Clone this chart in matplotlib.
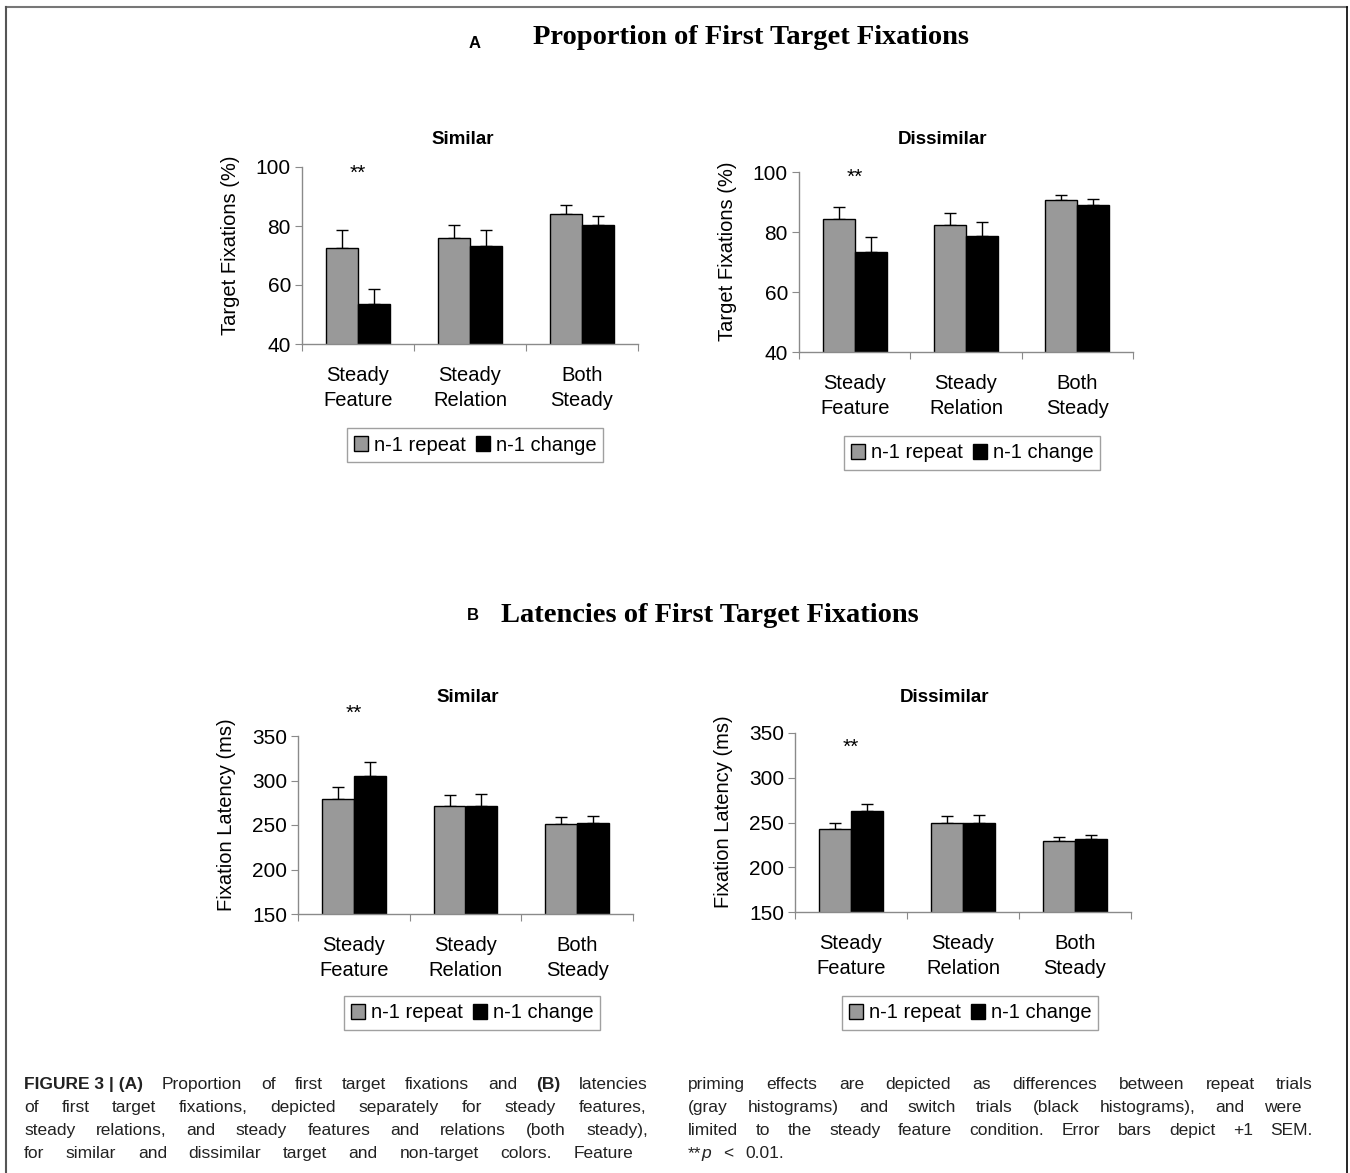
import numpy as np
import matplotlib
matplotlib.use('Agg')
import matplotlib.pyplot as plt
from matplotlib.lines import Line2D
from matplotlib.patches import Patch

plt.rcParams['font.family'] = ['Liberation Sans', 'DejaVu Sans']

W, H = 1350, 1173

# conditions and legend entries
categories = ['Steady\nFeature', 'Steady\nRelation', 'Both\nSteady']
series_names = ['n-1 repeat', 'n-1 change']

# A: proportion of first target fixations (%), mean and +1 SEM
prop_sim_repeat = [72.5, 76.0, 84.0]
prop_sim_repeat_sem = [6.0, 4.2, 3.0]
prop_sim_change = [53.4, 73.1, 80.2]
prop_sim_change_sem = [5.2, 5.5, 3.1]
prop_dis_repeat = [84.3, 82.2, 90.6]
prop_dis_repeat_sem = [3.9, 4.1, 1.6]
prop_dis_change = [73.4, 78.8, 89.0]
prop_dis_change_sem = [5.0, 4.6, 2.0]

# B: latencies of first target fixations (ms)
lat_sim_repeat = [279, 271, 251]
lat_sim_repeat_sem = [14, 13, 8]
lat_sim_change = [305, 271, 252]
lat_sim_change_sem = [16, 14, 8]
lat_dis_repeat = [243, 250, 229]
lat_dis_repeat_sem = [7, 7, 5]
lat_dis_change = [263, 250, 232]
lat_dis_change_sem = [8, 8, 4]

prop_ticks = [40, 60, 80, 100]
lat_ticks = [150, 200, 250, 300, 350]

GRAY = '#999999'
SPINE = '#8a8a8a'

fig = plt.figure(figsize=(W / 100, H / 100), dpi=100)


def fx(px):
    return px / W


def fy(py):
    return 1 - py / H


def panel(box, rep, rep_sem, chg, chg_sem, ticks, ylabel, title, title_xy, star_y, legend_c):
    left, right, top, bottom = box
    ax = fig.add_axes([fx(left), fy(bottom), fx(right - left), (bottom - top) / H])
    x = np.arange(len(categories))
    bw = 0.286
    ax.bar(x - bw / 2, rep, bw, color=GRAY, edgecolor='black', linewidth=1, zorder=2)
    ax.bar(x + bw / 2, chg, bw, color='black', edgecolor='black', linewidth=1, zorder=2)
    for off, vals, sem in [(-bw / 2, rep, rep_sem), (bw / 2, chg, chg_sem)]:
        ax.errorbar(x + off, vals, yerr=[np.zeros(len(vals)), sem], fmt='none',
                    ecolor='black', elinewidth=1, capsize=4.5, capthick=1, zorder=1)
    ax.set_xlim(-0.5, 2.5)
    ax.set_ylim(ticks[0], ticks[-1])
    ax.set_yticks(ticks)
    ax.set_xticks([-0.5, 0.5, 1.5, 2.5])
    ax.set_xticklabels([])
    ax.set_xticks(x, minor=True)
    ax.set_xticklabels(categories, minor=True, fontsize=14.5, linespacing=1.4)
    ax.tick_params(axis='x', which='major', length=5, color=SPINE, direction='out')
    ax.tick_params(axis='x', which='minor', length=0, pad=16)
    ax.tick_params(axis='y', length=5, color=SPINE, labelsize=15, pad=3)
    for s in ['top', 'right']:
        ax.spines[s].set_visible(False)
    for s in ['left', 'bottom']:
        ax.spines[s].set_color(SPINE)
        ax.spines[s].set_linewidth(1)
    ax.set_ylabel(ylabel, fontsize=14.5)
    ax.yaxis.set_label_coords(-0.185, 0.56)
    fig.text(fx(title_xy[0]), fy(title_xy[1]), title, ha='center', va='center',
             fontsize=13.5, fontweight='bold')
    ax.text(0, star_y, '**', ha='center', va='center', fontsize=15, clip_on=False)
    handles = [Patch(facecolor=GRAY, edgecolor='black', linewidth=1),
               Patch(facecolor='black', edgecolor='black', linewidth=1)]
    leg = fig.legend(handles, series_names, loc='center', ncol=2,
                     bbox_to_anchor=(fx(legend_c[0]), fy(legend_c[1])),
                     fontsize=14.5, frameon=True, fancybox=False,
                     handlelength=0.7, handleheight=0.7, handletextpad=0.3,
                     columnspacing=0.5, borderpad=0.35, borderaxespad=0)
    leg.get_frame().set_edgecolor('#888888')
    leg.get_frame().set_linewidth(1)
    return ax


panel((302, 638, 167, 344), prop_sim_repeat, prop_sim_repeat_sem,
      prop_sim_change, prop_sim_change_sem, prop_ticks,
      'Target Fixations (%)', 'Similar', (463, 139), 98.0, (475, 445))
panel((799, 1133, 172, 352), prop_dis_repeat, prop_dis_repeat_sem,
      prop_dis_change, prop_dis_change_sem, prop_ticks,
      'Target Fixations (%)', 'Dissimilar', (942, 140), 98.3, (972, 453))
panel((298, 633, 736, 914), lat_sim_repeat, lat_sim_repeat_sem,
      lat_sim_change, lat_sim_change_sem, lat_ticks,
      'Fixation Latency (ms)', 'Similar', (468, 698), 376, (472, 1013))
panel((795, 1131, 733, 912), lat_dis_repeat, lat_dis_repeat_sem,
      lat_dis_change, lat_dis_change_sem, lat_ticks,
      'Fixation Latency (ms)', 'Dissimilar', (945, 698), 334, (970, 1013))

# section headers
serif = ['Liberation Serif', 'DejaVu Serif']
fig.text(fx(475), fy(43), 'A', ha='center', va='center', fontsize=12, fontweight='bold')
fig.text(fx(751), fy(38), 'Proportion of First Target Fixations', ha='center', va='center',
         fontsize=20.5, fontweight='bold', family=serif)
fig.text(fx(473), fy(616), 'B', ha='center', va='center', fontsize=12, fontweight='bold')
fig.text(fx(710), fy(615), 'Latencies of First Target Fixations', ha='center', va='center',
         fontsize=20.5, fontweight='bold', family=serif)

# frame around the figure
fig.add_artist(Line2D([fx(6), fx(1347)], [fy(7), fy(7)], color='#777777', lw=1.5))
fig.add_artist(Line2D([fx(6), fx(6)], [fy(7), 0], color='#555555', lw=1.5))
fig.add_artist(Line2D([fx(1347), fx(1347)], [fy(7), 0], color='black', lw=1.2))

# caption, set word by word so the lines can be justified
renderer = fig.canvas.get_renderer()
CAP_SIZE = 12.5


def cap_line(tokens, x0, y, x1=None, gap=12.0):
    arts, widths = [], []
    for tok in tokens:
        if isinstance(tok, tuple):
            text, weight, style, joined = tok
        else:
            text, weight, style, joined = tok, 'normal', 'normal', False
        a = fig.text(0, fy(y + 5), text, ha='left', va='baseline', fontsize=CAP_SIZE,
                     fontweight=weight, fontstyle=style, color='#222222')
        arts.append((a, joined))
        widths.append(a.get_window_extent(renderer=renderer).width)
    ngaps = sum(1 for a, j in arts[1:] if not j)
    if x1 is not None and ngaps:
        gap = (x1 - x0 - sum(widths)) / ngaps
    pos = x0
    for i, ((a, joined), w) in enumerate(zip(arts, widths)):
        if i > 0 and not joined:
            pos += gap
        a.set_x(fx(pos))
        pos += w


def words(s):
    return s.split()


def bold(t):
    return (t, 'bold', 'normal', False)


left_lines = [
    [bold('FIGURE 3 | (A)')] + words('Proportion of first target fixations and') + [bold('(B)'), 'latencies'],
    words('of first target fixations, depicted separately for steady features,'),
    words('steady relations, and steady features and relations (both steady),'),
    words('for similar and dissimilar target and non-target colors. Feature'),
]
right_lines = [
    words('priming effects are depicted as differences between repeat trials'),
    words('(gray histograms) and switch trials (black histograms), and were'),
    words('limited to the steady feature condition. Error bars depict +1 SEM.'),
    ['**', ('p', 'normal', 'italic', True), '<', '0.01.'],
]
line_y = [1084, 1107, 1130, 1153]
left_ends = [648, 646, 648, 633]
right_ends = [1313, 1302, 1313, None]
for i, toks in enumerate(left_lines):
    cap_line(toks, 24, line_y[i], left_ends[i])
for i, toks in enumerate(right_lines):
    cap_line(toks, 688, line_y[i], right_ends[i])

fig.savefig('out.png', dpi=100)
